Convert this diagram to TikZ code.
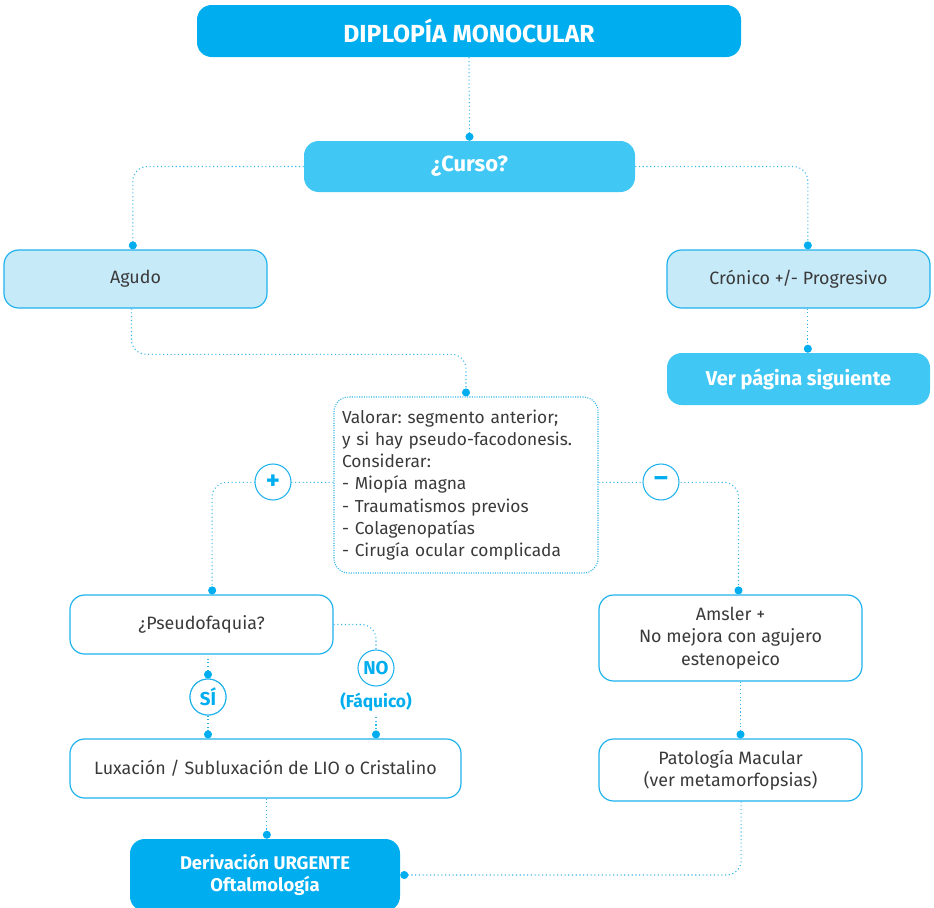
\documentclass[tikz,border=0pt]{standalone}
\usepackage{fontspec}
\setmainfont{Fira Sans}
\usetikzlibrary{arrows.meta,calc}
\frenchspacing

\definecolor{cyanA}{HTML}{00AEEF}
\definecolor{cyanB}{HTML}{41C7F3}
\definecolor{paleC}{HTML}{C7EAF9}
\definecolor{edgeC}{HTML}{1FB2EC}
\definecolor{lineC}{HTML}{33B5EA}
\definecolor{txtC}{HTML}{3A3A3A}

\tikzset{
  box/.style={rectangle, rounded corners=11pt, align=center, inner sep=2pt},
  solidbox/.style={box, fill=cyanA, text=white, font=\bfseries\fontsize{13.8}{17}\selectfont},
  midbox/.style={box, fill=cyanB, text=white, font=\bfseries\fontsize{15}{18}\selectfont},
  bodyfont/.style={font=\fontsize{13.4}{16.7}\selectfont},
  palebox/.style={box, fill=paleC, draw=edgeC, line width=0.9pt, text=txtC, bodyfont},
  whitebox/.style={box, fill=white, draw=edgeC, line width=0.9pt, text=txtC, bodyfont},
  notebox/.style={box, draw=lineC, densely dotted, line width=0.8pt, text=txtC, align=left,
    font=\fontsize{13}{16.7}\selectfont},
  conn/.style={draw=lineC, dotted, line width=0.8pt, rounded corners=11pt,
    -{Circle[length=6pt,fill=cyanA,color=cyanA]}},
  plain/.style={draw=lineC, dotted, line width=0.8pt},
  badge/.style={circle, draw=edgeC, fill=white, line width=0.8pt, minimum size=27pt, inner sep=0pt,
    text=cyanA, font=\bfseries\fontsize{14}{16}\selectfont},
  tag/.style={text=cyanA, font=\bfseries\fontsize{13}{15}\selectfont, inner sep=1pt},
}

\begin{document}
\begin{tikzpicture}[x=0.75pt, y=-0.75pt]
\useasboundingbox (0,0) rectangle (934,907);

% boxes
\node[solidbox, minimum width=408pt, minimum height=39pt, font=\bfseries\fontsize{18.5}{21}\selectfont]
  (title) at (469,31) {DIPLOPÍA MONOCULAR};
\node[midbox, minimum width=248.25pt, minimum height=38.25pt, font=\bfseries\fontsize{16.5}{19}\selectfont]
  (curso) at (469.5,166.5) {¿Curso?};
\node[palebox, minimum width=197.25pt, minimum height=43.5pt] (agudo) at (135.5,279) {Agudo};
\node[palebox, minimum width=197.25pt, minimum height=43.5pt] (cronico) at (798.5,279) {Crónico +/- Progresivo};
\node[midbox, minimum width=197.25pt, minimum height=39pt] (ver) at (798.5,379) {Ver página siguiente};
\node[notebox, minimum width=198pt, minimum height=132pt, text width=186pt, inner xsep=6pt] (valorar) at (466,485)
  {Valorar: segmento anterior;\\y si hay pseudo-facodonesis.\\Considerar:\\- Miopía magna\\- Traumatismos previos\\- Colagenopatías\\- Cirugía ocular complicada};
\node[whitebox, minimum width=197.25pt, minimum height=44.25pt] (pseudo) at (201.5,624.5) {¿Pseudofaquia?};
\node[whitebox, minimum width=197.25pt, minimum height=64.5pt] (amsler) at (730.5,638)
  {Amsler +\\No mejora con agujero\\estenopeico};
\node[whitebox, minimum width=293.25pt, minimum height=44.25pt] (luxacion) at (265.5,768.5)
  {Luxación / Subluxación de LIO o Cristalino};
\node[whitebox, minimum width=197.25pt, minimum height=46.5pt] (patologia) at (730.5,770)
  {Patología Macular\\(ver metamorfopsias)};
\node[solidbox, minimum width=202.5pt, minimum height=54pt] (deriv) at (265,875)
  {Derivación URGENTE\\Oftalmología};

% connectors
\draw[conn] (title.south) -- (curso.north);
\draw[conn] (curso.west) -| ([xshift=-2pt]agudo.north);
\draw[conn] (curso.east) -| ([xshift=7pt]cronico.north);
\draw[conn] ([xshift=7pt]cronico.south) -- ([xshift=7pt]ver.north);
\draw[conn] ([xshift=-3pt]agudo.south) |- ($([xshift=-3pt]agudo.south)!.52!(valorar.north)$) -| (valorar.north);
\draw[conn] ([yshift=2pt]valorar.west) -| ([xshift=8pt]pseudo.north);
\draw[conn] ([yshift=2pt]valorar.east) -| ([xshift=6pt]amsler.north);
\draw[conn] ([xshift=7.5pt]amsler.south) -- ([xshift=7.5pt]amsler.south |- patologia.north);
\draw[conn] ([xshift=1pt]luxacion.south) -- ([xshift=1pt]luxacion.south |- deriv.north);
\draw[conn] ([xshift=8pt]patologia.south) |- (deriv.east);

% decision branches
\node[badge] (si) at (208,697) {SÍ};
\node[badge] (no) at (376,668) {NO};
\node[tag] (faq) at (376,702) {(Fáquico)};
\draw[conn, shorten <=3pt] (si |- pseudo.south) -- (si);
\draw[conn] (si.south) -- (si |- luxacion.north);
\draw[plain, rounded corners=11pt] (pseudo.east) -| (no.north);
\draw[conn, shorten <=3pt] (faq.south) -- (faq.south |- luxacion.north);
\node[badge] at (si) {SÍ};

% sign badges on the side branches
\node[badge, font=\bfseries\fontsize{20}{20}\selectfont] (plus) at (273,482) {+};
\node[badge, font=\bfseries\fontsize{20}{20}\selectfont] (minus) at (661,482) {–};
\end{tikzpicture}
\end{document}
